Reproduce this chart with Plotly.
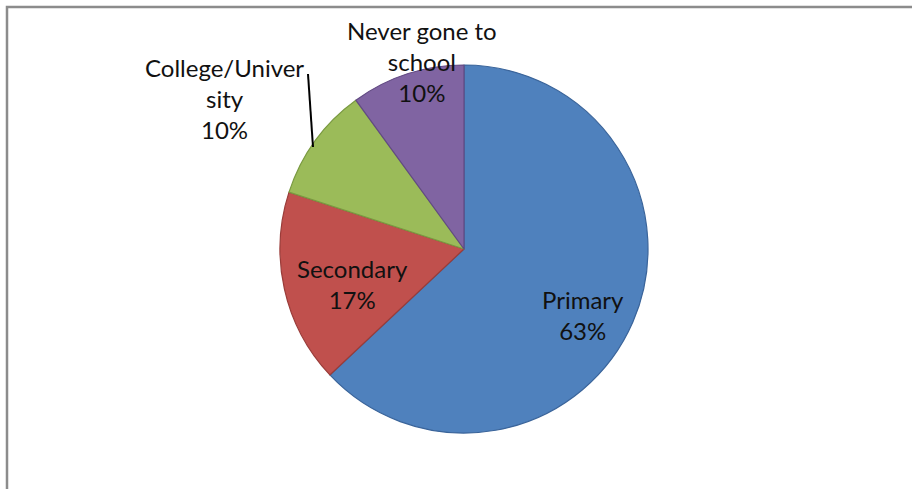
import plotly.graph_objects as go

# Education level shares
categories = ["Primary", "Secondary", "College/University", "Never gone to school"]
shares = [63, 17, 10, 10]
label_lines = ["Primary", "Secondary", "College/Univer<br>sity", "Never gone to<br>school"]

fill_colors = ["#4F81BD", "#C0504D", "#9BBB59", "#8064A2"]
edge_colors = ["#3A649A", "#9A3C39", "#7A9A41", "#624A83"]

W, H = 912, 489
cx, cy, r = 464, 249, 184

fig = go.Figure(
    go.Pie(
        labels=categories,
        values=shares,
        sort=False,
        direction="clockwise",
        rotation=0,
        marker=dict(colors=fill_colors, line=dict(color=edge_colors, width=1.2)),
        textinfo="none",
        hoverinfo="label+percent",
        showlegend=False,
        domain=dict(
            x=[(cx - r) / W, (cx + r) / W],
            y=[1 - (cy + r) / H, 1 - (cy - r) / H],
        ),
    )
)

# Data label centres (pixels) for each slice
label_pos = [(583, 315), (352, 284), (224, 99), (422, 61)]
total = sum(shares)
for txt, v, (px, py) in zip(label_lines, shares, label_pos):
    fig.add_annotation(
        x=px / W, y=1 - py / H, xref="paper", yref="paper",
        text=f"{txt}<br>{round(100 * v / total)}%",
        showarrow=False, xanchor="center", yanchor="middle",
        font=dict(family="Lato, Open Sans, sans-serif", size=24, color="#111111"),
    )

# Leader line for the College/University label
fig.add_shape(
    type="line", xref="paper", yref="paper",
    x0=308 / W, y0=1 - 74 / H, x1=313 / W, y1=1 - 147 / H,
    line=dict(color="#000000", width=2),
)

# Chart area border
fig.add_shape(
    type="rect", xref="paper", yref="paper",
    x0=7 / W, y0=-0.05, x1=1.05, y1=1 - 7 / H,
    line=dict(color="#8C8C8C", width=2.5),
)

fig.update_layout(
    width=W, height=H,
    margin=dict(l=0, r=0, t=0, b=0),
    paper_bgcolor="#FFFFFF", plot_bgcolor="#FFFFFF",
)

fig.write_html("out.html")
